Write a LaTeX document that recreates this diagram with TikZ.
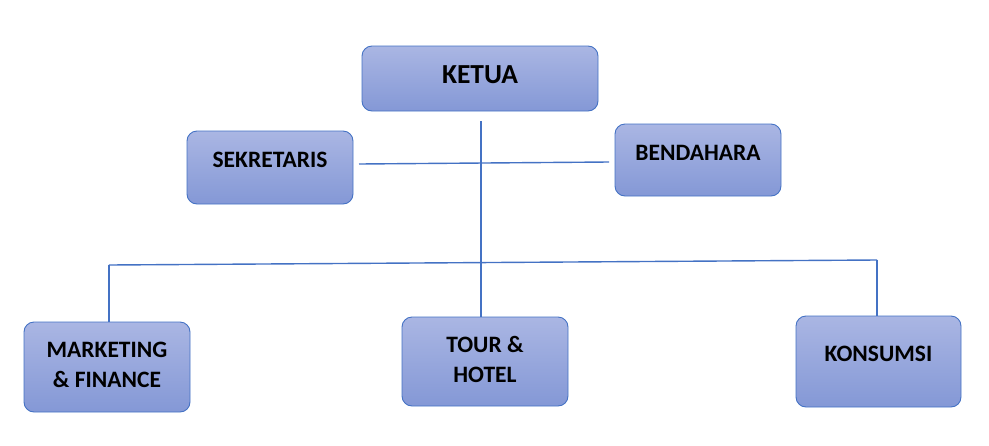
\documentclass[tikz,border=0pt]{standalone}
\usepackage{fontspec}
\setmainfont{Carlito}
\usetikzlibrary{positioning,calc}

\definecolor{boxtop}{RGB}{170,182,227}
\definecolor{boxbot}{RGB}{132,152,214}
\definecolor{linkblue}{RGB}{68,114,196}

\tikzset{
  unit/.style={draw=linkblue, line width=0.9pt, rounded corners=10pt,
    top color=boxtop, bottom color=boxbot,
    minimum width=166pt, minimum height=73pt, align=center,
    font=\fontsize{23.5}{30}\selectfont\bfseries},
  lift/.style={text depth=#1},
  link/.style={draw=linkblue, line width=1.4pt}
}

\begin{document}
\begin{tikzpicture}[x=1pt,y=-1pt]
  \useasboundingbox (0,0) rectangle (989,445);
  % top
  \node[unit, minimum width=236pt, minimum height=65pt, lift=7pt,
    font=\fontsize{27.5}{30}\selectfont\bfseries] (ketua) at (480,78.5) {KETUA};
  \node[unit, lift=15pt] (sekre) at (270,167.5) {SEKRETARIS};
  \node[unit, minimum height=72pt, lift=14pt] (benda) at (698,160) {BENDAHARA};
  % divisions
  \node[unit, minimum height=90pt, lift=4pt] (market) at (107,367) {MARKETING\\\& FINANCE};
  \node[unit, minimum height=89pt, lift=5pt] (tour) at (485,361.5) {TOUR \&\\HOTEL};
  \node[unit, minimum width=165pt, minimum height=91pt, lift=15pt] (konsum) at (878.5,361.5) {KONSUMSI};

  \coordinate (stem) at (481,121);
  \coordinate (sekl) at (359,164);
  \coordinate (bendl) at (609,162);
  \coordinate (barl) at (109,265);
  \coordinate (barr) at (877,260);

  \draw[link] (stem) -- (stem |- tour.north);
  \draw[link] (sekl) -- (bendl);
  \draw[link] (barl) -- (barr);
  \draw[link] (barl) -- (barl |- market.north);
  \draw[link] (barr) -- (barr |- konsum.north);
\end{tikzpicture}
\end{document}
